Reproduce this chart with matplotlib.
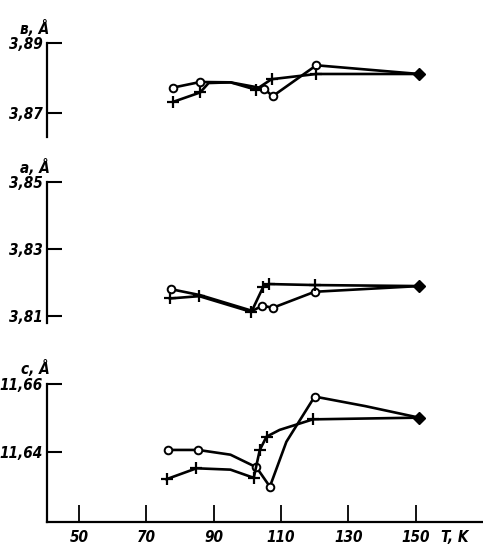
import numpy as np
import matplotlib
matplotlib.use("Agg")
import matplotlib.pyplot as plt

# lattice parameter b (panel "в")
b_T_circ = [78, 86, 95, 105, 107.5, 120.5, 151]
b_circ = [3.8772, 3.8788, 3.8787, 3.8769, 3.8747, 3.8836, 3.8811]
b_circ_marked = [0, 1, 3, 4, 5]
b_T_plus = [78, 86, 88.5, 95, 102.5, 107.2, 120.5, 151]
b_plus = [3.8731, 3.8758, 3.8785, 3.8787, 3.8766, 3.8796, 3.8811, 3.8811]
b_plus_marked = [0, 1, 4, 5, 6]

# lattice parameter a
a_T_circ = [77.2, 86, 101.5, 104.5, 107.5, 120, 151]
a_circ = [3.8181, 3.8163, 3.8116, 3.8132, 3.8125, 3.8173, 3.8190]
a_circ_marked = [0, 3, 4, 5]
a_T_plus = [77, 85.7, 101.2, 104.7, 106.5, 120, 151]
a_plus = [3.8153, 3.8160, 3.8113, 3.8187, 3.8196, 3.8193, 3.8190]
a_plus_marked = [0, 1, 2, 3, 4, 5]

# lattice parameter c
c_T_circ = [76.5, 85.4, 95, 102.7, 106.7, 111.6, 120, 135, 151]
c_circ = [11.6406, 11.6406, 11.6392, 11.6355, 11.6298, 11.6430, 11.6563, 11.6535, 11.6501]
c_circ_marked = [0, 1, 3, 4, 6]
c_T_plus = [76, 84.9, 95, 101.9, 103.7, 105.7, 109.6, 119.5, 151]
c_plus = [11.6320, 11.6352, 11.6348, 11.6324, 11.6406, 11.6445, 11.6465, 11.6496, 11.6501]
c_plus_marked = [0, 1, 3, 4, 5, 7]

x_ticks = [50, 70, 90, 110, 130, 150]

panels = [
    ("в, Å", (3.863, 3.890), [3.87, 3.89], ["3,87", "3,89"],
     b_T_circ, b_circ, b_circ_marked, b_T_plus, b_plus, b_plus_marked),
    ("a, Å", (3.808, 3.850), [3.81, 3.83, 3.85], ["3,81", "3,83", "3,85"],
     a_T_circ, a_circ, a_circ_marked, a_T_plus, a_plus, a_plus_marked),
    ("c, Å", (11.6194, 11.660), [11.64, 11.66], ["11,64", "11,66"],
     c_T_circ, c_circ, c_circ_marked, c_T_plus, c_plus, c_plus_marked),
]

W, H = 483, 550
# top / bottom pixel rows of each panel's vertical axis
rows = [(43, 137), (182, 323), (384, 522)]
left_px, right_px = 47, 483

fig = plt.figure(figsize=(W / 100, H / 100), dpi=100)
font = dict(family="DejaVu Sans", style="italic", weight="bold", stretch="condensed")

for i, (lab, ylim, yt, ytl, tc, vc, mc, tp, vp, mp) in enumerate(panels):
    top, bot = rows[i]
    ax = fig.add_axes([left_px / W, 1 - bot / H, (right_px - left_px) / W, (bot - top) / H])
    ax.patch.set_alpha(0)
    ax.plot(tc, vc, color="black", lw=1.9, marker="o", ms=5.5, mfc="white",
            mec="black", mew=1.4, markevery=mc, zorder=3)
    ax.plot(tp, vp, color="black", lw=1.9, marker="+", ms=8, mew=1.6,
            markevery=mp, zorder=3)
    ax.plot([tc[-1]], [vc[-1]], marker="D", ms=6.5, color="black", zorder=4)
    ax.set_xlim(40.5, 170)
    ax.set_ylim(*ylim)
    for s in ["top", "right"]:
        ax.spines[s].set_visible(False)
    ax.spines["left"].set_linewidth(1.6)
    ax.set_yticks(yt)
    ax.set_yticklabels(ytl, fontsize=11, **font)
    ax.tick_params(axis="y", direction="in", length=11, width=1.5, pad=3)
    if i < 2:
        ax.spines["bottom"].set_visible(False)
        ax.set_xticks([])
    else:
        ax.spines["bottom"].set_linewidth(1.6)
        ax.set_xticks(x_ticks)
        ax.set_xticklabels([str(t) for t in x_ticks], fontsize=11, **font)
        ax.tick_params(axis="x", direction="in", length=12, width=1.3, pad=6)
    fig.text(35 / W, 1 - (top - 15) / H, lab, ha="center", va="center",
             fontsize=11, **font)

fig.text(455 / W, 1 - 537 / H, "T, K", ha="center", va="center", fontsize=11, **font)

fig.savefig("out.png", dpi=100)
